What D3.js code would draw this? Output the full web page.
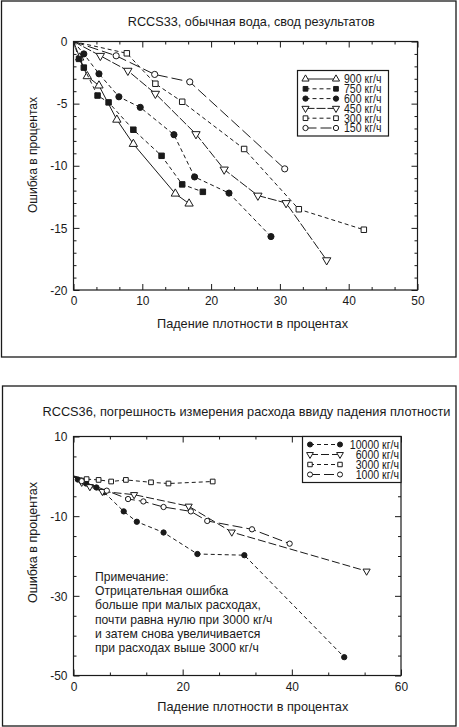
<!DOCTYPE html>
<html>
<head>
<meta charset="utf-8">
<script src="https://cdn.jsdelivr.net/npm/d3@7"></script>
<style>
  body { margin: 0; background: #fff; }
  svg { display: block; font-family: "Liberation Sans", Arial, sans-serif; }
</style>
</head>
<body>
<div id="chart"></div>
<script>
// ---- RCCS33 data: [density drop %, error %]
const names33 = ["900 кг/ч", "750 кг/ч", "600 кг/ч", "450 кг/ч", "300 кг/ч", "150 кг/ч"];
const flow900 = [[0,0],[0.9,-1.3],[2.0,-2.8],[3.7,-3.55],[6.3,-6.3],[8.7,-8.25],[14.8,-12.25],[16.8,-13.05]];
const flow750 = [[0,0],[0.8,-1.4],[1.5,-2.1],[3.5,-4.35],[5.1,-4.9],[8.7,-7.1],[12.8,-9.2],[15.8,-11.5],[18.8,-12.1]];
const flow600 = [[0,0],[1.5,-1.0],[3.7,-2.6],[6.6,-4.45],[9.7,-5.3],[14.6,-7.5],[17.6,-10.9],[22.6,-12.2],[28.7,-15.7]];
const flow450 = [[0,0],[3.9,-1.15],[7.9,-2.35],[11.9,-4.2],[17.8,-7.45],[21.9,-10.3],[26.8,-12.4],[30.9,-13.0],[36.8,-17.6]];
const flow300 = [[0,0],[7.75,-0.95],[11.9,-3.4],[15.8,-4.85],[24.8,-8.65],[32.75,-13.5],[42.2,-15.15]];
const flow150 = [[0,0],[6.2,-1.15],[11.8,-2.65],[16.9,-3.25],[30.7,-10.25]];
const xTicks33 = [0, 10, 20, 30, 40, 50];
const yTicks33 = [0, -5, -10, -15, -20];

// ---- RCCS36 data
const names36 = ["10000 кг/ч", "6000 кг/ч", "3000 кг/ч", "1000 кг/ч"];
const flow10000 = [[0,0],[0.8,-0.8],[2.3,-1.8],[4.2,-2.8],[5.6,-4.0],[9.2,-8.8],[11.6,-11.4],[16.5,-14.1],[22.7,-19.5],[31.3,-19.8],[49.6,-45.4]];
const flow6000 = [[0,0],[1.5,-1.5],[3.0,-2.6],[5.3,-3.8],[11.1,-4.6],[21.1,-7.5],[29.0,-14.0],[53.7,-23.8]];
const flow3000 = [[0,0.1],[2.4,-0.7],[4.6,-0.9],[6.9,-1.3],[9.6,-0.9],[14.2,-1.5],[17.4,-1.8],[25.5,-1.3]];
const flow1000 = [[0,0],[1.5,-1.2],[6.1,-3.6],[10.0,-5.7],[12.8,-6.3],[16.5,-7.7],[21.5,-8.8],[24.5,-11.2],[32.7,-13.3],[39.6,-16.9]];
const xTicks36 = [0, 20, 40, 60];
const yTicks36 = [10, -10, -30, -50];
const noteLines = [
  "Примечание:",
  "Отрицательная ошибка",
  "больше при малых расходах,",
  "почти равна нулю при 3000 кг/ч",
  "и затем снова увеличивается",
  "при расходах выше 3000 кг/ч"
];

const ink = "#1a1a1a";

const svg = d3.select("#chart").append("svg")
  .attr("width", 459)
  .attr("height", 727);

// squeeze text horizontally (the original uses a narrow Helvetica)
function squeeze(sel, k) {
  sel.each(function () {
    const w = this.getComputedTextLength();
    d3.select(this).attr("textLength", w * k).attr("lengthAdjust", "spacingAndGlyphs");
  });
}
function fit(sel, w) {
  sel.attr("textLength", w).attr("lengthAdjust", "spacingAndGlyphs");
}

function marker(g, type, size, cx, cy) {
  const sym = {
    triUp: d3.symbolTriangle, triDown: d3.symbolTriangle,
    square: d3.symbolSquare, circle: d3.symbolCircle
  }[type.shape];
  g.append("path")
    .attr("d", d3.symbol().type(sym).size(size)())
    .attr("transform", "translate(" + cx + "," + cy + ")" + (type.shape == "triDown" ? " rotate(180)" : ""))
    .attr("fill", type.filled ? ink : "#fff")
    .attr("stroke", ink)
    .attr("stroke-width", 1);
}

function chart(opt) {
  const x = d3.scaleLinear().domain(opt.xDomain).range([opt.left, opt.right]);
  const y = d3.scaleLinear().domain(opt.yDomain).range([opt.bottom, opt.top]);
  const g = svg.append("g");

  // outer frame around the whole figure
  g.append("rect")
    .attr("x", opt.frame[0]).attr("y", opt.frame[1])
    .attr("width", opt.frame[2]).attr("height", opt.frame[3])
    .attr("fill", "none").attr("stroke", ink).attr("stroke-width", 1.3);

  // axes with inward ticks on all four sides
  const axes = [
    [d3.axisBottom(x), opt.xTicks, opt.xMinor, "translate(0," + opt.bottom + ")", true],
    [d3.axisTop(x), opt.xTicks, opt.xMinor, "translate(0," + opt.top + ")", false],
    [d3.axisLeft(y), opt.yTicks, opt.yMinor, "translate(" + opt.left + ",0)", true],
    [d3.axisRight(y), opt.yTicks, opt.yMinor, "translate(" + opt.right + ",0)", false]
  ];
  axes.forEach(([axis, major, minor, tr, labels]) => {
    g.append("g").attr("transform", tr)
      .call(axis.tickValues(minor).tickSize(-3).tickFormat(""))
      .call(a => a.select(".domain").remove());
    const ax = g.append("g").attr("transform", tr)
      .call(axis.tickValues(major).tickSize(-6).tickPadding(6).tickFormat(labels ? d => d : ""))
      .call(a => a.select(".domain").remove());
    ax.selectAll("text").attr("fill", ink).style("font-size", "13px").style("font-family", null)
      .call(squeeze, 0.92);
  });
  g.selectAll(".tick line").attr("stroke", ink);

  g.append("rect")
    .attr("x", opt.left).attr("y", opt.top)
    .attr("width", opt.right - opt.left).attr("height", opt.bottom - opt.top)
    .attr("fill", "none").attr("stroke", ink).attr("stroke-width", 1.2);

  // titles
  g.append("text").attr("x", opt.titleX).attr("y", opt.titleY)
    .attr("text-anchor", "middle").style("font-size", "13.5px").attr("fill", ink)
    .text(opt.title).call(fit, opt.titleW);
  g.append("text").attr("x", opt.xLabelX).attr("y", opt.xLabelY)
    .attr("text-anchor", "middle").style("font-size", "13.5px").attr("fill", ink)
    .text("Падение плотности в процентах").call(fit, 191);
  g.append("text")
    .attr("transform", "translate(37," + opt.yLabelY + ") rotate(-90)")
    .attr("text-anchor", "middle").style("font-size", "13.5px").attr("fill", ink)
    .text("Ошибка в процентах").call(fit, opt.yLabelW);

  // series
  const line = d3.line().x(d => x(d[0])).y(d => y(d[1]));
  opt.series.forEach(s => {
    g.append("path").datum(s.data)
      .attr("d", line)
      .attr("fill", "none").attr("stroke", ink).attr("stroke-width", 1)
      .attr("stroke-dasharray", s.dash);
    s.data.slice(1).forEach(d => marker(g, s, opt.markerSize, x(d[0]), y(d[1])));
  });

  // legend
  const L = opt.legend;
  const lg = g.append("g");
  lg.append("rect").attr("x", L.x).attr("y", L.y).attr("width", L.w).attr("height", L.h)
    .attr("fill", "#fff").attr("stroke", ink).attr("stroke-width", 1.2);
  opt.series.forEach((s, i) => {
    const ry = L.y + L.first + i * L.step;
    lg.append("line").attr("x1", L.m1).attr("x2", L.m2).attr("y1", ry).attr("y2", ry)
      .attr("stroke", ink).attr("stroke-width", 1).attr("stroke-dasharray", s.dash);
    marker(lg, s, opt.legendMarker, L.m1, ry);
    marker(lg, s, opt.legendMarker, L.m2, ry);
    lg.append("text").attr("x", L.tx).attr("y", ry).attr("dy", "0.36em")
      .attr("text-anchor", L.anchor).style("font-size", L.font).attr("fill", ink)
      .text(s.name).call(squeeze, 0.88);
  });
  return { x, y, g };
}

const minor = (a, b, step) => d3.range(a, b + 1e-9, step).filter(v => Math.abs(v / (step * 3) - Math.round(v / (step * 3))) > 1e-6);

chart({
  frame: [1.5, 1, 454.5, 356],
  left: 73.5, right: 417.5, top: 41.5, bottom: 290,
  xDomain: [0, 50], yDomain: [-20, 0],
  xTicks: xTicks33, yTicks: yTicks33,
  xMinor: minor(0, 50, 10 / 3),
  yMinor: d3.range(-20, 0.5, 1).filter(v => v % 5 != 0),
  title: "RCCS33, обычная вода, свод результатов", titleX: 251.3, titleY: 26, titleW: 247,
  xLabelX: 252.5, xLabelY: 328,
  yLabelY: 155, yLabelW: 116,
  markerSize: 30, legendMarker: 22,
  series: [
    { name: names33[0], data: flow900, shape: "triUp", filled: false, dash: null },
    { name: names33[1], data: flow750, shape: "square", filled: true, dash: "4,3" },
    { name: names33[2], data: flow600, shape: "circle", filled: true, dash: "4,3" },
    { name: names33[3], data: flow450, shape: "triDown", filled: false, dash: "9,2" },
    { name: names33[4], data: flow300, shape: "square", filled: false, dash: "4,3" },
    { name: names33[5], data: flow150, shape: "circle", filled: false, dash: "11,4" }
  ],
  legend: { x: 297.5, y: 70.5, w: 91, h: 65.5, first: 8.5, step: 9.8, m1: 305.5, m2: 336, tx: 344, anchor: "start", font: "12px" }
});

const c36 = chart({
  frame: [2.5, 386, 453.5, 340],
  left: 73.5, right: 401, top: 436.5, bottom: 675.5,
  xDomain: [0, 60], yDomain: [-50, 10],
  xTicks: xTicks36, yTicks: yTicks36,
  xMinor: minor(0, 60, 20 / 3),
  yMinor: d3.range(-50, 10.5, 5).filter(v => (v + 50) % 20 != 0),
  title: "RCCS36, погрешность измерения расхода ввиду падения плотности", titleX: 246.5, titleY: 415.5, titleW: 408,
  xLabelX: 252.8, xLabelY: 710.5,
  yLabelY: 542.5, yLabelW: 121,
  markerSize: 22, legendMarker: 20,
  series: [
    { name: names36[0], data: flow10000, shape: "circle", filled: true, dash: "4,3" },
    { name: names36[1], data: flow6000, shape: "triDown", filled: false, dash: "8,3" },
    { name: names36[2], data: flow3000, shape: "square", filled: false, dash: "4,3" },
    { name: names36[3], data: flow1000, shape: "circle", filled: false, dash: "10,4" }
  ],
  legend: { x: 302.5, y: 436.5, w: 98.5, h: 46, first: 8, step: 10, m1: 310, m2: 340, tx: 399, anchor: "end", font: "12px" }
});

// note inside the second chart
c36.g.append("g").selectAll("text").data(noteLines).join("text")
  .attr("x", 95).attr("y", (d, i) => 581 + i * 14.2)
  .style("font-size", "13.5px").attr("fill", ink)
  .text(d => d)
  .call(squeeze, 0.9);
</script>
</body>
</html>
